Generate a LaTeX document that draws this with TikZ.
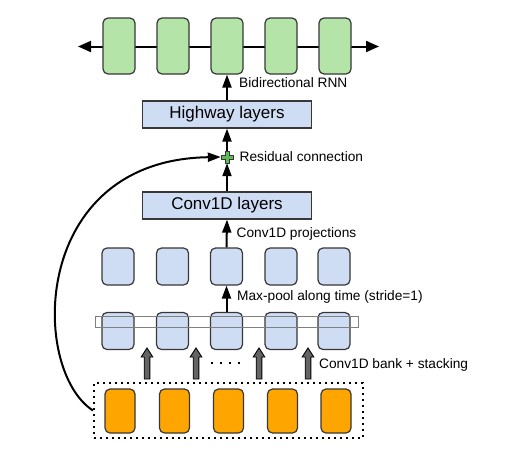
\documentclass[tikz,border=0pt]{standalone}
\usepackage{fontspec}
\setmainfont{Liberation Sans}
\usetikzlibrary{arrows.meta}
\definecolor{rnngreen}{RGB}{180,228,168}
\definecolor{cellblue}{RGB}{207,221,244}
\definecolor{inorange}{RGB}{255,165,0}
\definecolor{edgegray}{RGB}{55,55,55}
\definecolor{bankgray}{RGB}{100,100,100}
\definecolor{plusgreen}{RGB}{95,185,85}
\begin{document}
\begin{tikzpicture}[x=1pt,y=-1pt,
  cell/.style={draw=edgegray,line width=1.2pt,rounded corners=5pt,inner sep=0pt},
  rnncell/.style={cell,fill=rnngreen,minimum width=32pt,minimum height=56pt},
  convcell/.style={cell,fill=cellblue,minimum width=32pt,minimum height=37pt},
  incell/.style={cell,fill=inorange,minimum width=30pt,minimum height=44pt},
  layerbox/.style={draw=edgegray,line width=1.2pt,fill=cellblue,minimum width=169pt,
    minimum height=27pt,font=\fontsize{17}{20}\selectfont},
  lbl/.style={anchor=base west,inner sep=0pt,font=\fontsize{13.7}{16}\selectfont},
  flow/.style={line width=2pt,-{Triangle[length=13pt,width=9pt]}}]
  \useasboundingbox (0,0) rectangle (510,461);

  % bidirectional RNN row
  \coordinate (rnnL) at (78,46.5);
  \coordinate (rnnR) at (379,46.5);
  \draw[line width=2pt,{Triangle[length=13pt,width=11pt]}-{Triangle[length=13pt,width=11pt]}] (rnnL) -- (rnnR);
  \foreach \x [count=\i] in {119,173,227,281,335}
  \node[rnncell] (rnn\i) at (\x,46) {};

  % highway, residual, conv1d
  \node[layerbox] (highway) at (227,114.5) {Highway layers};
  \node[minimum size=12pt,inner sep=0pt] (sum) at (227,157) {};
  \node[layerbox] (conv) at (227,205.5) {Conv1D layers};

  % max-pool output and conv bank rows
  \foreach \x [count=\i] in {118,172.5,226.5,281,334}
  \node[convcell] (pool\i) at (\x,266.5) {};
  \foreach \x [count=\i] in {118,172.5,226.5,281,334}
  \node[convcell] (bank\i) at (\x,331) {};
  \draw[gray,line width=1pt] (95,316) rectangle (358,327);

  % inputs
  \node[draw,line width=2pt,dash pattern=on 2pt off 4pt,minimum width=269pt,
    minimum height=55pt,inner sep=0pt] (inputs) at (228.5,410.5) {};
  \foreach \x [count=\i] in {120,174.5,228.5,282.5,336}
  \node[incell] (in\i) at (\x,411) {};

  % thick gray arrows
  \foreach \x in {147,196,259,308}
  \draw[fill=bankgray,draw=black,line width=0.9pt] (\x-2.8,379) -- (\x+2.8,379) -- (\x+2.8,357)
    -- (\x+5.8,357) -- (\x,348) -- (\x-5.8,357) -- (\x-2.8,357) -- cycle;
  \draw[line width=1.6pt,dash pattern=on 1.6pt off 7.4pt] (211,363) -- (242,363);

  % connectors
  \draw[flow] (highway.north) -- (rnn3.south);
  \draw[flow] (sum.north) -- (highway.south);
  \draw[flow] (conv.north) -- (sum.south);
  \draw[flow] (pool3.north) -- (conv.south);
  \draw[flow] (bank3.north) -- (pool3.south);
  \draw[flow] (inputs.west) .. controls (30,370) and (30,160) .. (sum.west);
  \draw[fill=plusgreen,draw=edgegray,line width=0.8pt,shift={(sum)}] (-2,-6) -- (2,-6) -- (2,-2)
    -- (6,-2) -- (6,2) -- (2,2) -- (2,6) -- (-2,6) -- (-2,2) -- (-6,2) -- (-6,-2) -- (-2,-2) -- cycle;

  % labels
  \node[lbl] (birnnlbl) at (239,87.5) {Bidirectional RNN};
  \node[lbl] (reslbl) at (239.5,161) {Residual connection};
  \node[lbl] (projlbl) at (236.5,237) {Conv1D projections};
  \node[lbl] (poollbl) at (237,300) {Max-pool along time (stride=1)};
  \node[lbl] (banklbl) at (319,368.5) {Conv1D bank + stacking};
\end{tikzpicture}
\end{document}
